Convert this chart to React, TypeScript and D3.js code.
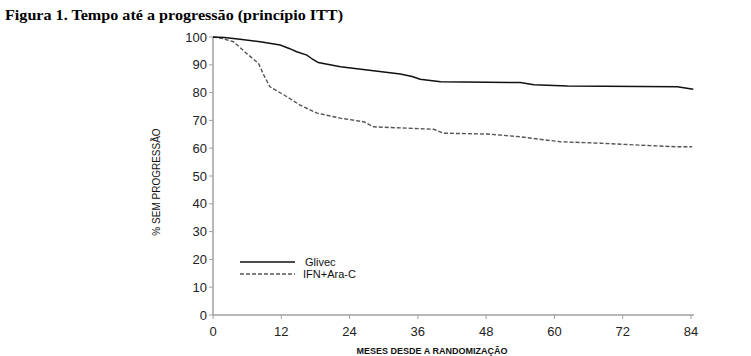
import React from "react";
import * as d3 from "d3";

const titleText = "Figura 1. Tempo até a progressão (princípio ITT)";
const xTicks = [0, 12, 24, 36, 48, 60, 72, 84];
const yTicks = [0, 10, 20, 30, 40, 50, 60, 70, 80, 90, 100];
const seriesNames = ["Glivec", "IFN+Ara-C"];

const glivecMonths = [0, 2, 4.75, 8.3, 11.8, 13.5, 14.7, 16.5, 17.5, 18.5, 22.4, 28.2, 32.9, 35, 36.4, 40, 54, 56.4, 62.3, 81.6, 84.4];
const glivecPct = [100, 99.8, 99.2, 98.3, 97.1, 95.8, 94.7, 93.5, 92, 90.8, 89.3, 87.9, 86.7, 85.8, 84.8, 83.9, 83.6, 82.8, 82.4, 82.1, 81.2];

const ifnMonths = [0, 1.5, 3.6, 5.9, 8, 9, 10, 13, 15.3, 18.3, 22.4, 26.5, 28.2, 38.8, 40.5, 48.2, 54, 61.1, 68.1, 74, 81.6, 84.2];
const ifnPct = [100, 99.5, 98.3, 94.1, 90.5, 86, 82.1, 78.5, 75.5, 72.6, 70.8, 69.5, 67.7, 66.8, 65.4, 65.1, 64.1, 62.3, 61.8, 61.2, 60.5, 60.5];

export default function App() {
  const W = 751, H = 356;
  const x = d3.scaleLinear().domain([0, 84]).range([213, 691]);
  const y = d3.scaleLinear().domain([0, 100]).range([315, 37]);
  const line = d3.line<[number, number]>().x(d => x(d[0])).y(d => y(d[1])).curve(d3.curveLinear);
  const g = glivecMonths.map((m, i) => [m, glivecPct[i]] as [number, number]);
  const f = ifnMonths.map((m, i) => [m, ifnPct[i]] as [number, number]);
  const axisColor = "#a0a0a0";
  const tickFont = "Liberation Sans, Arial, sans-serif";
  return (
    <svg width={W} height={H} style={{ position: "absolute", left: 0, top: 0, background: "#fff" }}>
      <text x={5} y={20} fontFamily="Liberation Serif, Times New Roman, serif" fontWeight="bold" fontSize={15} fill="#000" textLength={338} lengthAdjust="spacingAndGlyphs">{titleText}</text>
      <line x1={x(0)} x2={x(0)} y1={y(100)} y2={y(0)} stroke={axisColor} strokeWidth={1.5} />
      <line x1={x(0)} x2={x(84) + 3} y1={y(0)} y2={y(0)} stroke={axisColor} strokeWidth={1.5} />
      {yTicks.map(t => (
        <g key={"y" + t}>
          <line x1={x(0) - 4} x2={x(0)} y1={y(t)} y2={y(t)} stroke={axisColor} strokeWidth={1} />
          <text x={x(0) - 6} y={y(t)} dy="0.35em" textAnchor="end" fontFamily={tickFont} fontSize={13} fill="#222">{t}</text>
        </g>
      ))}
      {xTicks.map(t => (
        <g key={"x" + t}>
          <line x1={x(t)} x2={x(t)} y1={y(0)} y2={y(0) + 4} stroke={axisColor} strokeWidth={1} />
          <text x={x(t)} y={y(0) + 21} textAnchor="middle" fontFamily={tickFont} fontSize={13} fill="#222">{t}</text>
        </g>
      ))}
      <text transform={`translate(160,182) rotate(-90)`} textAnchor="middle" fontFamily={tickFont} fontSize={10} fill="#111">% SEM PROGRESSÃO</text>
      <text x={432} y={354} textAnchor="middle" fontFamily={tickFont} fontWeight="bold" fontSize={9} fill="#111">MESES DESDE A RANDOMIZAÇÃO</text>
      <path d={line(f) || ""} fill="none" stroke="#555" strokeWidth={1.4} strokeDasharray="4,2" />
      <path d={line(g) || ""} fill="none" stroke="#111" strokeWidth={1.5} />
      <line x1={240} x2={295} y1={262} y2={262} stroke="#111" strokeWidth={1.5} />
      <text x={305} y={266} fontFamily={tickFont} fontSize={11} fill="#111">{seriesNames[0]}</text>
      <line x1={240} x2={295} y1={274} y2={274} stroke="#555" strokeWidth={1.4} strokeDasharray="4,2" />
      <text x={303} y={278} fontFamily={tickFont} fontSize={11} fill="#111">{seriesNames[1]}</text>
    </svg>
  );
}
